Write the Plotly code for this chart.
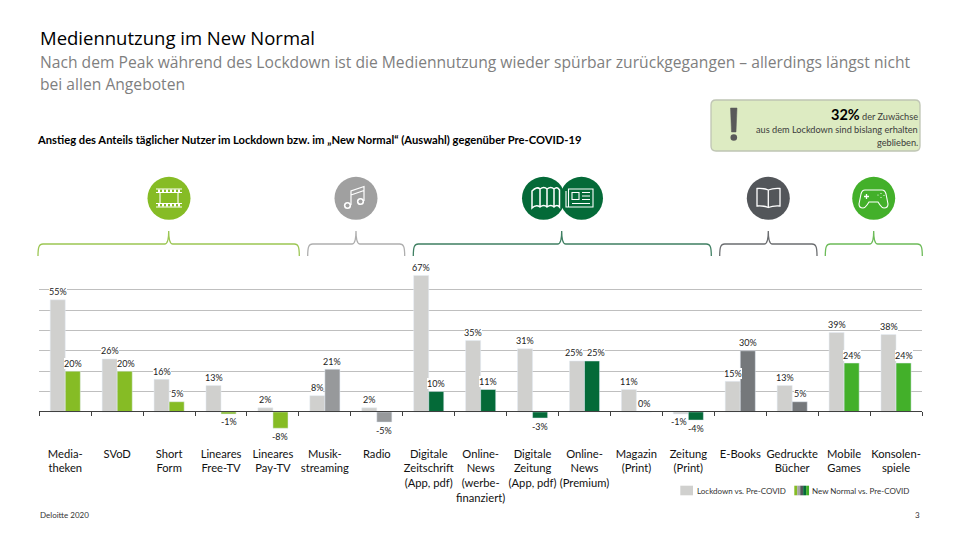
import plotly.graph_objects as go

W, H = 960, 540

# Werte aus dem Chart
categories = ["Media-<br>theken", "SVoD", "Short<br>Form", "Lineares<br>Free-TV", "Lineares<br>Pay-TV",
              "Musik-<br>streaming", "Radio", "Digitale<br>Zeitschrift<br>(App, pdf)",
              "Online-<br>News<br>(werbe-<br>finanziert)", "Digitale<br>Zeitung<br>(App, pdf)",
              "Online-<br>News<br>(Premium)", "Magazin<br>(Print)", "Zeitung<br>(Print)", "E-Books",
              "Gedruckte<br>Bücher", "Mobile<br>Games", "Konsolen-<br>spiele"]
lockdown = [55, 26, 16, 13, 2, 8, 2, 67, 35, 31, 25, 11, -1, 15, 13, 39, 38]
new_normal = [20, 20, 5, -1, -8, 21, -5, 10, 11, -3, 25, 0, -4, 30, 5, 24, 24]

GREEN = "#86BC25"
GREY = "#97999B"
DARKGREEN = "#046A38"
SLATE = "#75787B"
BRIGHT = "#43B02A"
LOCK = "#D0D0CE"
nn_colors = [GREEN] * 5 + [GREY] * 2 + [DARKGREEN] * 6 + [SLATE] * 2 + [BRIGHT] * 2

FONT = "Lato"
TEXT = "#000000"


def px(x):
    return x / W


def py(y):
    return 1 - y / H


def pt(x, y):
    return f"{px(x):.5f},{py(y):.5f}"


shapes = []
annotations = []


def path(d, color, width=1.2, fill=None):
    shapes.append(dict(type="path", xref="paper", yref="paper", path=d,
                       line=dict(color=color, width=width),
                       fillcolor=fill if fill else "rgba(0,0,0,0)"))


def circle(cx, cy, r, color):
    shapes.append(dict(type="circle", xref="paper", yref="paper", x0=px(cx - r), x1=px(cx + r),
                       y0=py(cy + r), y1=py(cy - r), fillcolor=color, line=dict(width=0)))


def rect(x0, y0, x1, y1, color):
    shapes.append(dict(type="rect", xref="paper", yref="paper", x0=px(x0), x1=px(x1),
                       y0=py(y1), y1=py(y0), fillcolor=color, line=dict(width=0)))


def label(x, y, text, size, color=TEXT, anchor="left", valign="middle", family=FONT):
    # annotations carry 2px of padding, take it back so x is where the glyphs start
    x = x - 2 if anchor == "left" else x + 2
    annotations.append(dict(xref="paper", yref="paper", x=px(x), y=py(y), text=text, showarrow=False,
                            xanchor=anchor, yanchor=valign, align=anchor,
                            font=dict(size=size, color=color, family=family)))


def brace(x0, x1, xm, color):
    top, bot, tip = 244, 256, 231
    d = ("M" + pt(x0, bot) + " C" + pt(x0, top + 3) + " " + pt(x0 + 1, top) + " " + pt(x0 + 5, top)
         + " L" + pt(xm - 4, top) + " C" + pt(xm - 1.5, top) + " " + pt(xm, top - 4) + " " + pt(xm, tip)
         + " C" + pt(xm, top - 4) + " " + pt(xm + 1.5, top) + " " + pt(xm + 4, top)
         + " L" + pt(x1 - 5, top) + " C" + pt(x1 - 1, top) + " " + pt(x1, top + 3) + " " + pt(x1, bot))
    path(d, color, 1.3)


# Klammern und Icons
brace(38, 299.3, 168.7, "#9CC653")
brace(307.7, 404.7, 356, "#AEAEAE")
brace(413.3, 711.3, 561.7, "#3F7F62")
brace(719.7, 817, 768.3, "#6B6D70")
brace(825.3, 922.3, 873.7, "#6CBB58")

CY = 198.3
R = 21.5
circle(169, CY, R, GREEN)
circle(356, CY, R, "#A0A0A0")
circle(543.5, CY, R, DARKGREEN)
circle(581.5, CY, R, DARKGREEN)
circle(768.3, CY, R, "#53565A")
circle(873.7, CY, R, BRIGHT)

# Film
path("M" + pt(156, 189) + " L" + pt(182, 189) + " M" + pt(156, 207) + " L" + pt(182, 207)
     + " M" + pt(156, 192.5) + " L" + pt(182, 192.5) + " M" + pt(156, 203.5) + " L" + pt(182, 203.5)
     + " M" + pt(160, 192.5) + " L" + pt(160, 203.5) + " M" + pt(178, 192.5) + " L" + pt(178, 203.5),
     "white", 1.1)
for xx in range(158, 182, 4):
    rect(xx, 189.5, xx + 2, 192, "white")
    rect(xx, 204, xx + 2, 206.5, "white")
# Noten
path("M" + pt(351, 205) + " L" + pt(351, 191) + " L" + pt(364, 186.5) + " L" + pt(364, 201)
     + " M" + pt(351, 195) + " L" + pt(364, 190.5), "white", 1.2)
circle(347.5, 205.5, 3.6, "white")
circle(347.5, 205.5, 2, "#A0A0A0")
circle(360.5, 201.5, 3.6, "white")
circle(360.5, 201.5, 2, "#A0A0A0")
# Karte
path("M" + pt(532, 191) + " Q" + pt(537, 186) + " " + pt(540, 189) + " Q" + pt(544, 186) + " " + pt(547, 189)
     + " Q" + pt(551, 186) + " " + pt(554, 189) + " Q" + pt(557, 186) + " " + pt(559.5, 190)
     + " L" + pt(559.5, 207) + " Q" + pt(557, 204) + " " + pt(554, 207) + " Q" + pt(551, 204) + " " + pt(547, 207)
     + " Q" + pt(544, 204) + " " + pt(540, 207) + " Q" + pt(536, 204) + " " + pt(532, 208) + " Z"
     + " M" + pt(540, 189) + " L" + pt(540, 207) + " M" + pt(547, 189) + " L" + pt(547, 207)
     + " M" + pt(554, 189) + " L" + pt(554, 207), "white", 1.5)
# Zeitung
path("M" + pt(568.5, 189) + " L" + pt(593, 189) + " L" + pt(593, 207) + " L" + pt(568.5, 207) + " Z"
     + " M" + pt(566, 191) + " L" + pt(566, 207) + " L" + pt(568.5, 207)
     + " M" + pt(572, 192.5) + " L" + pt(579, 192.5) + " L" + pt(579, 199.5) + " L" + pt(572, 199.5) + " Z"
     + " M" + pt(582, 192.5) + " L" + pt(590, 192.5) + " M" + pt(582, 196) + " L" + pt(590, 196)
     + " M" + pt(582, 199.5) + " L" + pt(590, 199.5) + " M" + pt(572, 203.5) + " L" + pt(590, 203.5),
     "white", 1.1)
# Buch
path("M" + pt(768.3, 190) + " Q" + pt(764, 188) + " " + pt(757, 188.5) + " L" + pt(757, 206) + " Q" + pt(764, 205.5)
     + " " + pt(768.3, 207.5) + " Q" + pt(773, 205.5) + " " + pt(780, 206) + " L" + pt(780, 188.5)
     + " Q" + pt(773, 188) + " " + pt(768.3, 190) + " L" + pt(768.3, 207.5), "white", 1.3)
# Controller
path("M" + pt(865, 190) + " L" + pt(882, 190) + " Q" + pt(885, 190) + " " + pt(886, 194) + " L" + pt(888, 204)
     + " Q" + pt(888, 208) + " " + pt(884, 208) + " Q" + pt(882, 208) + " " + pt(880, 205) + " L" + pt(878, 202)
     + " L" + pt(869, 202) + " L" + pt(867, 205) + " Q" + pt(865, 208) + " " + pt(863, 208) + " Q" + pt(859, 208)
     + " " + pt(859, 204) + " L" + pt(861, 194) + " Q" + pt(862, 190) + " " + pt(865, 190) + " Z", "white", 1.1)
path("M" + pt(864, 196.5) + " L" + pt(869, 196.5) + " M" + pt(866.5, 194) + " L" + pt(866.5, 199), "white", 1.3)
for cx_, cy_ in [(878, 195), (881, 193.5), (881, 197.5), (884, 195.5)]:
    circle(cx_, cy_, 0.6, "white")

# Hinweisbox
d = ("M" + pt(716, 100) + " L" + pt(915, 100) + " Q" + pt(920, 100) + " " + pt(920, 105) + " L" + pt(920, 146)
     + " Q" + pt(920, 151) + " " + pt(915, 151) + " L" + pt(716, 151) + " Q" + pt(711, 151) + " " + pt(711, 146)
     + " L" + pt(711, 105) + " Q" + pt(711, 100) + " " + pt(716, 100) + " Z")
path(d, "#BFC5B4", 1.3, "#DDEBC2")
path("M" + pt(730.5, 108) + " L" + pt(737, 108) + " L" + pt(736, 132) + " L" + pt(731.5, 132) + " Z", "#595959", 0.5, "#595959")
circle(733.8, 137.5, 3.3, "#595959")
label(917.5, 114, "<b style='font-size:14.5px;color:#000'>32%</b> der Zuwächse", 9.2, "#3c3c3c", "right")
label(917.5, 129, "aus dem Lockdown sind bislang erhalten", 9.2, "#3c3c3c", "right")
label(917.5, 142.5, "geblieben.", 9.2, "#3c3c3c", "right")

# Kopf und Fuss
label(40, 37.5, "Mediennutzung im New Normal", 18.5, "#000000", family="Open Sans")
label(40, 62, "Nach dem Peak während des Lockdown ist die Mediennutzung wieder spürbar zurückgegangen – allerdings längst nicht", 15.65, "#7f7f7f", family="Open Sans")
label(40, 84, "bei allen Angeboten", 15.65, "#7f7f7f", family="Open Sans")
label(36.5, 139, "<b>Anstieg des Anteils täglicher Nutzer im Lockdown bzw. im „New Normal“ (Auswahl) gegenüber Pre-COVID-19</b>", 11.2)
label(40, 515, "Deloitte 2020", 8, "#333333")
label(920, 515, "3", 8, "#333333", "right")

# Legende
rect(680.3, 485.7, 693, 495.3, LOCK)
for i, c in enumerate([GREEN, "#A5A5A5", "#53565A", DARKGREEN, BRIGHT]):
    rect(794.3 + i * 2.95, 485.7, 794.3 + (i + 1) * 2.95, 495.3, c)
label(697, 491, "Lockdown vs. Pre-COVID", 8, "#333333")
label(811.7, 491, "New Normal vs. Pre-COVID", 8, "#333333")

# Datenlabels, mit weissem Hintergrund ueber den Gitterlinien
nudge = {(1, 1): (1, 0), (10, 0): (-3, 0), (10, 1): (4, 0), (12, 0): (-2, 0)}
for i, cat in enumerate(categories):
    for j, v in enumerate((lockdown[i], new_normal[i])):
        dx, dy = nudge.get((i, j), (0, 0))
        annotations.append(dict(x=cat, y=v, xref="x", yref="y", text=f"{v}%", showarrow=False,
                                xshift=(-7.5 if j == 0 else 7.5) + dx,
                                yshift=dy + (2.5 if v >= 0 else -2.5),
                                yanchor="bottom" if v >= 0 else "top",
                                bgcolor="white", borderpad=0, borderwidth=0,
                                font=dict(size=9, color="#222222", family=FONT)))

fig = go.Figure()
fig.add_bar(x=categories, y=lockdown, name="Lockdown vs. Pre-COVID", marker_color=LOCK)
fig.add_bar(x=categories, y=new_normal, name="New Normal vs. Pre-COVID", marker_color=nn_colors)

zero_pos = py(411.4)
fig.update_layout(
    width=W, height=H, margin=dict(l=0, r=0, t=0, b=0), autosize=False,
    paper_bgcolor="white", plot_bgcolor="rgba(0,0,0,0)", showlegend=False,
    barmode="group", bargap=0.42, bargroupgap=0,
    font=dict(family=FONT, color=TEXT),
    shapes=shapes, annotations=annotations,
    xaxis=dict(domain=[px(39.3), px(922)], anchor="free", position=zero_pos, type="category",
               categoryorder="array", categoryarray=categories, range=[-0.5, 16.5],
               showline=True, linecolor="#404040", linewidth=1, ticks="outside", ticklen=4,
               tickcolor="#404040", tickson="boundaries", tickangle=0,
               ticklabelstandoff=32, tickfont=dict(size=11.2, color="#111111", family=FONT)),
    yaxis=dict(domain=[py(432.3), py(269.3)], range=[-10, 70], dtick=10, showticklabels=False,
               ticks="", zeroline=False, gridcolor="#BFBFBF", gridwidth=1, showline=False),
)

# ohne Body-Rand, sonst rutscht alles um 8px
fig.write_html("out.html", config=dict(displayModeBar=False),
               post_script="document.body.style.margin='0';document.body.style.overflow='hidden';")
